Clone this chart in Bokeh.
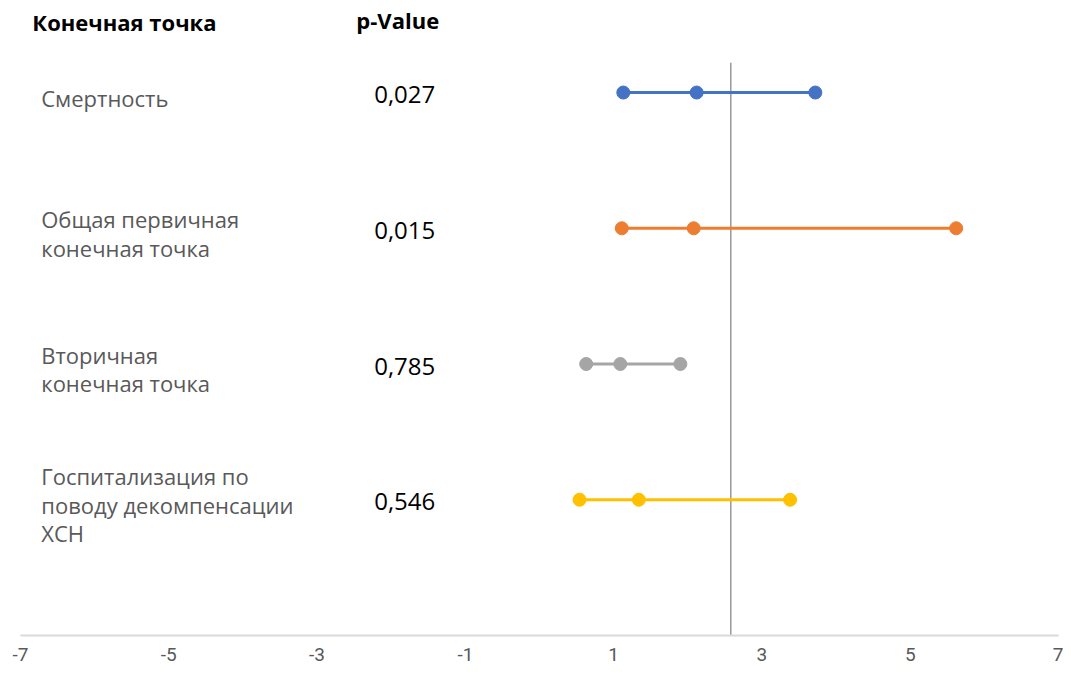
from bokeh.plotting import figure
from bokeh.models import FixedTicker, Range1d
from bokeh.core.properties import value
from bokeh.embed import file_html
from bokeh.resources import INLINE

# ---- data ----
endpoints = ["Смертность",
             "Общая первичная\nконечная точка",
             "Вторичная\nконечная точка",
             "Госпитализация по\nповоду декомпенсации\nХСН"]
p_values = ["0,027", "0,015", "0,785", "0,546"]
row_y = [4, 3, 2, 1]
ci_low = [1.13, 1.11, 0.63, 0.54]
estimate = [2.12, 2.08, 1.09, 1.34]
ci_high = [3.72, 5.62, 1.90, 3.38]
series_colors = ["#4472C4", "#ED7D31", "#A5A5A5", "#FFC000"]
ref_line_x = [2.58, 2.58]
ref_line_y = [0, 4.22]
x_ticks = [-7, -5, -3, -1, 1, 3, 5, 7]
header_endpoint = "Конечная точка"
header_p = "p-Value"

# ---- layout ----
label_x = -6.72
pval_x = -2.23
header_y = 4.523
header_endpoint_x = -6.84
header_p_x = -2.47

p = figure(width=1063, height=671, output_backend="svg", toolbar_location=None,
           x_range=Range1d(-7, 7), y_range=Range1d(0, 4.678),
           min_border_left=20, min_border_right=5, min_border_top=0, min_border_bottom=36)
p.outline_line_color = None
p.xgrid.visible = False
p.ygrid.visible = False
p.yaxis.visible = False
p.background_fill_color = "white"
p.border_fill_color = "white"

ax = p.xaxis[0]
ax.ticker = FixedTicker(ticks=x_ticks)
ax.major_label_overrides = {t: str(t) for t in x_ticks}
ax.axis_line_color = "#D9D9D9"
ax.axis_line_width = 2
ax.major_tick_line_color = None
ax.minor_tick_line_color = None
ax.major_tick_out = 0
ax.major_tick_in = 0
ax.major_label_standoff = 12
ax.major_label_text_font = "Roboto"
ax.major_label_text_font_size = "19px"
ax.major_label_text_color = "#595959"

# reference vertical line
p.line(ref_line_x, ref_line_y, line_color="#999999", line_width=1.5)

for i in range(len(endpoints)):
    xs = [ci_low[i], estimate[i], ci_high[i]]
    ys = [row_y[i]] * 3
    p.line(xs, ys, line_color=series_colors[i], line_width=3)
    p.scatter(xs, ys, size=13, fill_color=series_colors[i], line_color=series_colors[i])

# labels
p.text(x=[label_x] * len(endpoints), y=row_y, text=endpoints,
       text_font=value("Open Sans"), text_font_size="22px", text_color="#595959",
       text_align="left", text_baseline="middle", text_line_height=0.95, y_offset=5)
p.text(x=[pval_x] * len(p_values), y=row_y, text=p_values,
       text_font=value("Open Sans"), text_font_size="24px", text_color="#000000",
       text_align="left", text_baseline="middle", y_offset=2)
p.text(x=[header_endpoint_x, header_p_x], y=[header_y, header_y + 0.015],
       text=[header_endpoint, header_p],
       text_font=value("Open Sans"), text_font_size="22px", text_font_style="bold",
       text_color="#000000", text_align="left", text_baseline="middle")

open("out.html", "w").write(file_html(p, INLINE))
